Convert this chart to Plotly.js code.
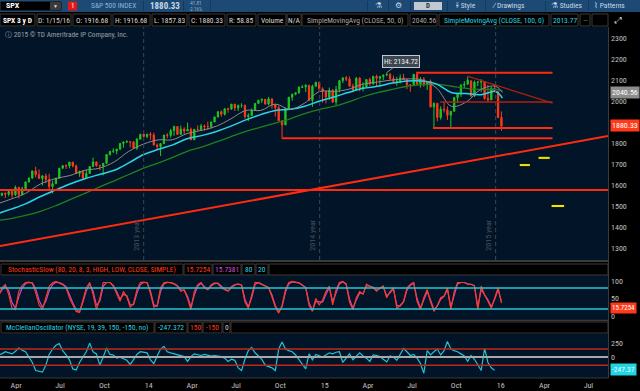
<!DOCTYPE html>
<html><head><meta charset="utf-8">
<script src="https://cdn.plot.ly/plotly-3.0.1.min.js"></script>
<style>html,body{margin:0;padding:0;background:#000;}#chart{width:640px;height:391px;}</style>
</head><body><div id="chart"></div>
<script>
// ---------------- DATA ----------------
const weekDates = ['2013-03-06','2013-03-13','2013-03-20','2013-03-27','2013-04-03','2013-04-10','2013-04-17','2013-04-24','2013-05-01','2013-05-08','2013-05-15','2013-05-22','2013-05-29','2013-06-05','2013-06-12','2013-06-19','2013-06-26','2013-07-03','2013-07-10','2013-07-17','2013-07-24','2013-07-31','2013-08-07','2013-08-14','2013-08-21','2013-08-28','2013-09-04','2013-09-11','2013-09-18','2013-09-25','2013-10-02','2013-10-09','2013-10-16','2013-10-23','2013-10-30','2013-11-06','2013-11-13','2013-11-20','2013-11-27','2013-12-04','2013-12-11','2013-12-18','2013-12-25',
'2014-01-01','2014-01-08','2014-01-15','2014-01-22','2014-01-29','2014-02-05','2014-02-12','2014-02-19','2014-02-26','2014-03-05','2014-03-12','2014-03-19','2014-03-26','2014-04-02','2014-04-09','2014-04-16','2014-04-23','2014-04-30','2014-05-07','2014-05-14','2014-05-21','2014-05-28','2014-06-04','2014-06-11','2014-06-18','2014-06-25','2014-07-02','2014-07-09','2014-07-16','2014-07-23','2014-07-30','2014-08-06','2014-08-13','2014-08-20','2014-08-27','2014-09-03','2014-09-10','2014-09-17','2014-09-24','2014-10-01','2014-10-08','2014-10-15','2014-10-22','2014-10-29','2014-11-05','2014-11-12','2014-11-19','2014-11-26','2014-12-03','2014-12-10','2014-12-17','2014-12-24','2014-12-31',
'2015-01-07','2015-01-14','2015-01-21','2015-01-28','2015-02-04','2015-02-11','2015-02-18','2015-02-25','2015-03-04','2015-03-11','2015-03-18','2015-03-25','2015-04-01','2015-04-08','2015-04-15','2015-04-22','2015-04-29','2015-05-06','2015-05-13','2015-05-20','2015-05-27','2015-06-03','2015-06-10','2015-06-17','2015-06-24','2015-07-01','2015-07-08','2015-07-15','2015-07-22','2015-07-29','2015-08-05','2015-08-12','2015-08-19','2015-08-26','2015-09-02','2015-09-09','2015-09-16','2015-09-23','2015-09-30','2015-10-07','2015-10-14','2015-10-21','2015-10-28','2015-11-04','2015-11-11','2015-11-18','2015-11-25','2015-12-02','2015-12-09','2015-12-16','2015-12-23','2015-12-30',
'2016-01-06','2016-01-13'];

const priceOpen = [1518,1551,1561,1556,1569,1553,1588,1555,1582,1614,1633,1667,1649,1631,1643,1626,1593,1606,1632,1680,1692,1691,1709,1691,1655,1664,1633,1655,1688,1710,1692,1691,1703,1745,1760,1762,1771,1798,1805,1806,1805,1775,1818,
1841,1831,1842,1838,1790,1783,1797,1838,1836,1859,1878,1841,1866,1857,1865,1815,1865,1863,1881,1878,1878,1900,1924,1949,1937,1963,1961,1985,1967,1978,1978,1925,1931,1955,1988,2003,2008,1985,2010,1982,1968,1906,1886,1964,2018,2032,2039,2064,2067,2075,2002,2070,
2088,2058,2045,2019,2051,1995,2055,2097,2110,2104,2071,2053,2108,2061,2067,2102,2081,2117,2108,2116,2123,2126,2107,2092,2094,2110,2102,2077,2077,2127,2080,2104,2078,2092,1971,1989,1921,1961,1958,1932,1951,2015,2033,2075,2079,2096,2023,2089,2090,2092,2012,2005,2061,
2044,1922];
const priceHigh = [1552,1563,1564,1570,1573,1597,1592,1592,1618,1635,1667,1687,1674,1648,1654,1654,1620,1632,1680,1693,1698,1709,1709,1697,1669,1670,1672,1690,1730,1711,1697,1704,1745,1760,1775,1771,1798,1806,1813,1806,1809,1823,1844,
1849,1843,1851,1849,1798,1798,1838,1847,1867,1883,1878,1883,1875,1897,1873,1865,1884,1891,1888,1902,1901,1924,1950,1955,1963,1968,1985,1985,1983,1989,1984,1942,1964,1991,2005,2011,2008,2019,2010,1986,1977,1906,1965,2018,2034,2041,2071,2075,2079,2075,2077,2093,
2091,2065,2046,2064,2057,2072,2097,2110,2119,2117,2082,2114,2114,2089,2102,2111,2120,2125,2117,2126,2135,2133,2121,2115,2126,2129,2102,2078,2128,2133,2114,2113,2093,2102,1993,1989,1975,1996,1974,1951,2020,2033,2080,2094,2116,2096,2097,2094,2104,2092,2077,2067,2081,
2044,1950];
const priceLow = [1514,1547,1538,1546,1539,1548,1536,1552,1577,1613,1629,1636,1630,1598,1608,1577,1560,1604,1632,1676,1676,1679,1684,1654,1639,1627,1633,1655,1686,1687,1670,1646,1700,1740,1752,1746,1766,1777,1800,1779,1772,1767,1818,
1827,1823,1815,1790,1770,1738,1795,1823,1825,1834,1839,1839,1842,1857,1814,1815,1861,1860,1859,1862,1868,1900,1921,1925,1930,1944,1958,1952,1952,1968,1916,1904,1928,1955,1988,1990,1984,1979,1963,1926,1906,1820,1886,1962,2001,2027,2034,2062,2042,2002,1972,2069,
2046,1992,1988,2005,1990,1981,2041,2085,2094,2067,2040,2048,2046,2045,2065,2073,2078,2067,2068,2099,2118,2099,2085,2072,2084,2100,2056,2044,2077,2076,2063,2067,2052,1971,1867,1903,1911,1945,1909,1872,1950,1990,2019,2061,2079,2022,2019,2070,2042,2006,1993,2005,2043,
1918,1858];
const priceClose = [1551,1561,1556,1569,1553,1588,1555,1582,1614,1633,1667,1649,1631,1643,1626,1593,1606,1632,1680,1692,1691,1709,1691,1655,1664,1633,1655,1688,1710,1692,1691,1703,1745,1760,1762,1771,1798,1805,1806,1805,1775,1818,1841,
1831,1842,1838,1790,1783,1797,1838,1836,1859,1878,1841,1866,1857,1865,1815,1865,1863,1881,1878,1878,1900,1924,1949,1937,1963,1961,1985,1967,1978,1978,1925,1931,1955,1988,2003,2008,1985,2010,1982,1968,1906,1886,1964,2018,2032,2039,2064,2067,2075,2002,2070,2088,
2058,2045,2019,2051,1995,2055,2097,2110,2104,2071,2053,2108,2061,2067,2102,2081,2117,2108,2116,2123,2126,2107,2092,2094,2110,2102,2077,2077,2127,2080,2104,2078,2092,1971,1989,1921,1961,1958,1932,1951,2015,2033,2075,2079,2099,2023,2089,2090,2092,2012,2005,2061,2044,
1922,1880];

const maDates = ['2013-03-06','2013-04-01','2013-05-01','2013-06-01','2013-07-01','2013-08-01','2013-09-01','2013-10-01','2013-11-01','2013-12-01','2014-01-01','2014-02-01','2014-03-01','2014-04-01','2014-05-01','2014-06-01','2014-07-01','2014-08-01','2014-09-01','2014-10-01','2014-11-01','2014-12-01','2015-01-01','2015-02-01','2015-03-01','2015-04-01','2015-05-01','2015-06-01','2015-07-01','2015-08-01','2015-09-01','2015-10-01','2015-11-01','2015-12-01','2016-01-01','2016-01-15'];
const sma50  = [1512,1533,1560,1605,1630,1645,1670,1680,1710,1760,1795,1815,1815,1845,1860,1880,1915,1955,1955,1985,1960,1990,2045,2045,2055,2080,2090,2100,2105,2100,2060,1975,1995,2055,2070,2040.56];
const sma100 = [1465,1485,1510,1545,1575,1605,1630,1650,1670,1705,1745,1770,1790,1820,1835,1855,1880,1910,1935,1955,1960,1975,2000,2020,2040,2060,2070,2085,2095,2095,2080,2040,2035,2030,2045,2013.77];
const sma200 = [1432,1440,1455,1475,1500,1530,1560,1590,1620,1650,1680,1705,1730,1760,1780,1805,1830,1855,1875,1895,1915,1940,1960,1975,1995,2020,2040,2055,2070,2077,2080,2070,2060,2055,2055,2047];

const stochK = [57,81,90,62,22,18,71,88,96,97,94,67,32,18,52,85,95,99,94,90,81,52,32,13,10,50,81,96,62,18,50,96,97,96,85,65,42,70,55,25,35,75,96,
97,95,65,25,30,81,95,97,95,92,85,71,75,50,18,70,90,96,80,75,90,95,93,81,75,71,85,90,92,88,40,22,60,96,95,90,85,81,55,25,8,30,75,96,99,97,95,88,81,30,13,50,
32,45,70,86,32,75,96,99,90,40,18,52,70,62,91,85,81,71,80,86,52,70,81,22,30,42,81,90,96,42,18,52,76,40,13,30,52,57,81,18,70,96,97,96,91,91,86,18,86,60,42,22,52,81,
37,8,15.7254];
const stochD = [60,75,86,72,38,22,55,80,93,96,95,78,45,25,42,72,90,97,96,92,84,60,38,18,12,40,72,92,72,30,42,85,96,96,88,70,48,62,58,32,32,65,90,
96,96,72,32,28,70,92,96,96,93,87,75,74,56,26,60,85,94,84,76,86,93,94,84,77,72,82,89,91,89,48,26,52,90,96,91,86,82,60,30,12,26,68,92,98,97,95,89,82,38,16,42,
40,40,62,82,40,65,92,98,92,48,22,46,66,64,86,86,82,74,78,84,58,66,78,30,28,40,74,88,94,50,22,46,70,46,18,28,48,56,76,26,62,92,96,96,92,91,87,26,76,62,46,26,48,76,
42,14,15.7381];
const mcclellan = [40,60,100,80,60,110,170,130,100,0,-100,-250,-260,-280,-150,50,150,220,250,120,40,-50,-220,-240,-100,0,100,260,100,60,-150,0,170,50,40,-20,0,-30,-60,-140,-40,50,100,
90,80,-50,-120,20,150,200,100,80,60,40,30,10,-80,10,60,40,30,50,40,20,30,20,10,-20,-80,-40,-60,-200,-250,-40,120,180,80,20,-40,-150,-180,-200,-250,150,280,150,120,100,40,-40,-120,-220,60,
-50,50,20,0,40,80,60,90,100,-100,-20,60,-50,20,80,20,-20,-80,40,30,10,-40,-90,20,0,-60,40,160,100,30,50,-20,-120,-300,120,40,100,150,40,120,290,150,120,100,60,20,-80,30,-40,-160,-250,160,
-100,-200,-247.372];

// drawn levels & trendlines (price, dates)
const levelLines = [
  {from:'2015-07-20', to:'2016-04-28', price:2134, color:'#ff2a12', width:2},
  {from:'2015-09-08', to:'2016-04-28', price:1995, color:'#b0200f', width:1.5},
  {from:'2015-08-24', to:'2016-04-28', price:1871, color:'#ff2a12', width:2},
  {from:'2014-10-15', to:'2016-04-28', price:1822, color:'#ff2a12', width:2},
  {from:'2013-01-01', to:'2016-12-31', price:1576, color:'#ff2a12', width:2}
];
const trendLines = [
  {d0:'2013-03-09', p0:1309, d1:'2016-08-21', p1:1833, color:'#ff2a12', width:2},
  {d0:'2015-11-03', p0:2118, d1:'2016-04-28', p1:1990, color:'#b0200f', width:1.2}
];
const targetDashes = [
  {from:'2016-02-20', to:'2016-03-12', price:1695},
  {from:'2016-03-30', to:'2016-04-22', price:1729},
  {from:'2016-04-26', to:'2016-05-22', price:1500}
];
const yearMarks = ['2014-01-01','2015-01-01','2016-01-01'];
const yearLabels = ['2013 year','2014 year','2015 year'];
const tickDates = ['2013-04-01','2013-07-01','2013-10-01','2014-01-01','2014-04-01','2014-07-01','2014-10-01','2015-01-01','2015-04-01','2015-07-01','2015-10-01','2016-01-01','2016-04-01','2016-07-01'];
const tickText = ['Apr','Jul','Oct','14','Apr','Jul','Oct','15','Apr','Jul','Oct','16','Apr','Jul'];
const priceTicks = [1300,1400,1500,1600,1700,1800,1900,2000,2100,2200,2300];

// ---------------- LAYOUT HELPERS ----------------
const W=640,H=391,ML=0,MR=32,MT=27,MB=13;
const PW=W-ML-MR, PH=H-MT-MB;
const px = x => (x-ML)/PW;
const py = y => (H-MB-y)/PH;
const FONT = "'Liberation Sans Narrow','Roboto Condensed','Liberation Sans',Roboto,sans-serif";

const shapes=[], ann=[];
function rect(x0,y0,x1,y1,fill,line,lw){shapes.push({type:'rect',xref:'paper',yref:'paper',x0:px(x0),x1:px(x1),y0:py(y1),y1:py(y0),fillcolor:fill||'rgba(0,0,0,0)',line:{color:line||'rgba(0,0,0,0)',width:lw===undefined?1:lw},layer:'below'});}
function txt(x,y,t,color,size,anchor,extra){ann.push(Object.assign({xref:'paper',yref:'paper',x:px(x),y:py(y),text:t,showarrow:false,xanchor:anchor||'left',yanchor:'middle',font:{family:FONT,size:size||8,color:color||'#d0d0d0'}},extra||{}));}

// toolbar
rect(0,0,640,12,'#1c4a74');
rect(0,1,62,11,'#000','#2a4a6a');
txt(4,6,'<b>SPX</b>','#ffffff',8);
rect(50,2,61,10,'#3a3a3a');
txt(55.5,6,'▼','#dddddd',5,'center');
rect(68,1.5,77,10.5,'#e01818');
txt(72.5,6,'1','#ffffff',7,'center');
txt(89,6,'S&P 500 INDEX','#8fb2d0',7.5);
txt(148,6,'<b>1880.33</b>','#c8d8e8',9);
txt(187,3.5,'-41.81','#9ab0c8',5);
txt(187,8.5,'-2.16%','#9ab0c8',5);
[143,183,210,367,388,410,447,485,545,588].forEach(x=>rect(x,1,x+0.6,11,'#0e2e4c'));
txt(378,6,'⚗','#c8d8e8',8,'center');
txt(398,6,'⚙','#c8d8e8',8,'center');
rect(414,2,442,10,'#c0c8d2');
txt(428,6,'<b>D</b>','#203040',7,'center');
txt(454,6,'⫲ Style','#c8d8e8',7.5);
txt(490,6,'∕ Drawings','#c8d8e8',7.5);
txt(549,6,'⚗ Studies','#c8d8e8',7.5);
txt(592,6,'⌇ Patterns','#c8d8e8',7.5);

// info row
rect(0,12,640,27,'#000');
const infoBoxes = [
 [0,35,'<b>SPX 3 y D</b>','#ffffff'],[37,71,'D: 1/15/16','#d8d8d8'],[73,111,'O: 1916.68','#d8d8d8'],[113,150,'H: 1916.68','#d8d8d8'],
 [152,187,'L: 1857.83','#d8d8d8'],[189,225,'C: 1880.33','#d8d8d8'],[227,256,'R: 58.85','#d8d8d8'],[258,286,'Volume','#d8d8d8'],
 [287,301,'N/A','#d8d8d8'],[302,408,'SimpleMovingAvg (CLOSE, 50, 0)','#a8a8a8'],[410,437,'2040.56','#a8a8a8'],
 [439,549,'SimpleMovingAvg (CLOSE, 100, 0)','#28d4e4'],[551,578,'2013.77','#28d4e4'],[580,590,'—','#20a020'],[592,608,'','#fff']];
infoBoxes.forEach(b=>{rect(b[0],14,b[1],26,'#000','#3a3a3a',1); if(b[2]) txt((b[0]+b[1])/2,20,b[2],b[3],7.5,'center');});
txt(618,20,'⤢','#c8c8c8',9,'center');

// copyright
txt(3,34,'ⓘ 2015 © TD Ameritrade IP Company, Inc.','#9aa0a8',7.3);

// panel separators / headers
rect(0,260,608,264,'#000');
shapes.push({type:'line',xref:'paper',yref:'paper',x0:0,x1:1,y0:py(261),y1:py(261),line:{color:'#3a3a3a',width:2}});
const stochHdr = [[1,183,'StochasticSlow (80, 20, 8, 3, HIGH, LOW, CLOSE, SIMPLE)','#ff3a1a'],[184,212,'15.7254','#ff3a1a'],[213,241,'15.7381','#d050d8'],[242,255,'80','#28d4e4'],[256,268,'20','#28d4e4'],[269,608,'','#fff']];
stochHdr.forEach(b=>{rect(b[0],264,b[1],275,'#000','#3a3a3a',1); if(b[2]) txt((b[0]+b[1])/2,269.5,b[2],b[3],7.5,'center');});
rect(0,320,608,334,'#000');
shapes.push({type:'line',xref:'paper',yref:'paper',x0:0,x1:1,y0:py(320.5),y1:py(320.5),line:{color:'#3a3a3a',width:1.5}});
const mcHdr = [[1,154,'McClellanOscillator (NYSE, 19, 39, 150, -150, no)','#28d4e4'],[155,187,'-247.372','#28d4e4'],[188,202,'150','#ff3a1a'],[203,222,'-150','#ff3a1a'],[223,230,'0','#d0d0d0'],[231,608,'','#fff']];
mcHdr.forEach(b=>{rect(b[0],322,b[1],333,'#000','#3a3a3a',1); if(b[2]) txt((b[0]+b[1])/2,327.5,b[2],b[3],7.5,'center');});
// right border
shapes.push({type:'line',xref:'paper',yref:'paper',x0:px(608.5),x1:px(608.5),y0:0,y1:1,line:{color:'#3a3a3a',width:1}});
shapes.push({type:'line',xref:'paper',yref:'paper',x0:0,x1:px(608.5),y0:0,y1:0,line:{color:'#3a3a3a',width:1}});

// year dashed lines
yearMarks.forEach((d,i)=>{
  shapes.push({type:'line',xref:'x',yref:'paper',x0:d,x1:d,y0:py(260),y1:1,line:{color:'#3c4652',width:1,dash:'4px,3px'}});
  ann.push({xref:'x',yref:'paper',x:d,y:py(253),text:yearLabels[i],showarrow:false,textangle:-90,xanchor:'right',yanchor:'bottom',xshift:-1,font:{family:FONT,size:8,color:'#48525e'}});
});

// levels, trendlines, target dashes
levelLines.forEach(l=>shapes.push({type:'line',xref:'x',yref:'y',x0:l.from,x1:l.to,y0:l.price,y1:l.price,line:{color:l.color,width:l.width}}));
trendLines.forEach(l=>shapes.push({type:'line',xref:'x',yref:'y',x0:l.d0,x1:l.d1,y0:l.p0,y1:l.p1,line:{color:l.color,width:l.width}}));
targetDashes.forEach(l=>{
  shapes.push({type:'line',xref:'x',yref:'y',x0:l.from,x1:l.to,y0:l.price,y1:l.price,line:{color:'#1a1a00',width:4}});
  shapes.push({type:'line',xref:'x',yref:'y',x0:l.from,x1:l.to,y0:l.price,y1:l.price,line:{color:'#e8e41c',width:2}});
});

// stochastic / mcclellan reference lines
[80,20].forEach(v=>shapes.push({type:'line',xref:'paper',yref:'y2',x0:0,x1:1,y0:v,y1:v,line:{color:'#22c8d4',width:1.5}}));
[150,-150].forEach(v=>shapes.push({type:'line',xref:'paper',yref:'y3',x0:0,x1:1,y0:v,y1:v,line:{color:'#c0281a',width:1.5}}));
shapes.push({type:'line',xref:'paper',yref:'y3',x0:0,x1:1,y0:0,y1:0,line:{color:'#a8a8a8',width:2}});

// Hi bubble
ann.push({xref:'x',yref:'y',x:'2015-05-20',y:2134.72,text:'Hi: 2134.72',showarrow:true,arrowhead:0,arrowwidth:1,arrowcolor:'#8a9098',ax:14,ay:-11,bgcolor:'#3c4550',bordercolor:'#c0c8d0',borderwidth:1,borderpad:1,font:{family:FONT,size:7.5,color:'#f0f0f0'}});

// right-side tags
function tag(y,t,bg,fg,sz){ann.push({xref:'paper',yref:'paper',x:px(609.5),y:py(y),text:t,showarrow:false,xanchor:'left',yanchor:'middle',bgcolor:bg,borderpad:1,font:{family:FONT,size:sz||8,color:fg}});}
tag(92,'2040.56','#8c8c8c','#ffffff');
tag(125,'1880.33','#ff3a1a','#ffffff');
tag(308,'15.7254','#ff3a1a','#ffffff',7);
tag(369,'-247.37','#22d4e4','#e8ffff',7.5);

// ---------------- TRACES ----------------
const data = [
 {type:'candlestick',x:weekDates,open:priceOpen,high:priceHigh,low:priceLow,close:priceClose,xaxis:'x',yaxis:'y',
  increasing:{line:{color:'#22c422',width:1},fillcolor:'#22c422'},decreasing:{line:{color:'#ff3a1a',width:1},fillcolor:'#ff3a1a'},
  whiskerwidth:0,hoverinfo:'skip',showlegend:false},
 {type:'scatter',mode:'lines',x:maDates,y:sma200,line:{color:'#1f7f1f',width:1.3,shape:'spline'},xaxis:'x',yaxis:'y',hoverinfo:'skip'},
 {type:'scatter',mode:'lines',x:maDates,y:sma100,line:{color:'#2ad4e4',width:1.5,shape:'spline'},xaxis:'x',yaxis:'y',hoverinfo:'skip'},
 {type:'scatter',mode:'lines',x:maDates,y:sma50,line:{color:'#8a8a8a',width:1,shape:'spline'},xaxis:'x',yaxis:'y',hoverinfo:'skip'},
 {type:'scatter',mode:'lines',x:weekDates,y:stochD,line:{color:'#c848d0',width:1.2},xaxis:'x',yaxis:'y2',hoverinfo:'skip'},
 {type:'scatter',mode:'lines',x:weekDates,y:stochK,line:{color:'#ff3a1a',width:1.2},xaxis:'x',yaxis:'y2',hoverinfo:'skip'},
 {type:'scatter',mode:'lines',x:weekDates,y:mcclellan,line:{color:'#20c4d4',width:1.2},xaxis:'x',yaxis:'y3',hoverinfo:'skip'}
];

const axFont = {family:FONT,size:8,color:'#c0c0c0'};
const layout = {
 width:W,height:H,margin:{l:ML,r:MR,t:MT,b:MB,pad:0},
 paper_bgcolor:'#000',plot_bgcolor:'#021528',showlegend:false,boxgap:0.45,
 xaxis:{type:'date',range:['2013-03-09','2016-08-21'],anchor:'y3',showgrid:false,zeroline:false,showline:false,ticks:'',
   tickmode:'array',tickvals:tickDates,ticktext:tickText,tickfont:axFont,ticklabelshift:5,ticklabelstandoff:1,rangeslider:{visible:false},fixedrange:true},
 yaxis:{domain:[py(260),1],range:[1243,2352],side:'right',anchor:'x',showgrid:false,zeroline:false,ticks:'',tickmode:'array',tickvals:priceTicks,tickfont:axFont,ticklabelstandoff:2,fixedrange:true},
 yaxis2:{domain:[py(320),py(275)],range:[-11.8,117.6],side:'right',anchor:'x',showgrid:false,zeroline:false,ticks:'',tickmode:'array',tickvals:[0,50,100],tickfont:axFont,ticklabelstandoff:2,fixedrange:true},
 yaxis3:{domain:[0,py(334)],range:[-389,430],side:'right',anchor:'x',showgrid:false,zeroline:false,ticks:'',tickmode:'array',tickvals:[0,250],tickfont:axFont,ticklabelstandoff:2,fixedrange:true},
 shapes:shapes,annotations:ann
};
Plotly.newPlot('chart',data,layout,{staticPlot:true,displayModeBar:false});
</script></body></html>
